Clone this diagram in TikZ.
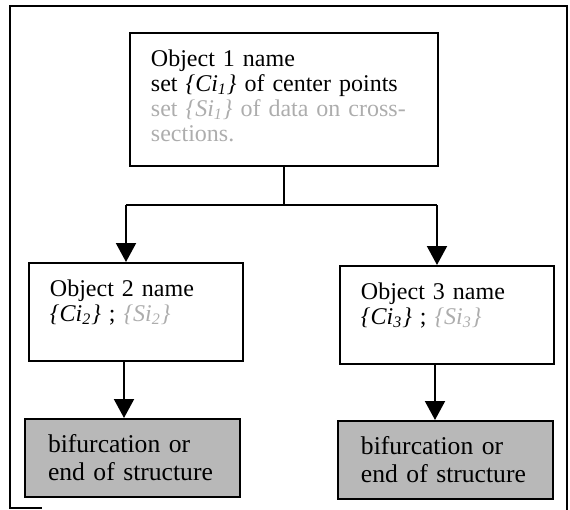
\documentclass[tikz,border=0pt]{standalone}
\usepackage{fontspec}
\setmainfont{Liberation Serif}
\usetikzlibrary{arrows.meta}
\tikzset{
      objbox/.style={draw=black, line width=1, anchor=north west, align=left,
            inner xsep=10.5pt, inner ysep=0pt, text width=86pt, text height=16.5pt,
            text depth=32.5pt, font=\fontsize{12pt}{12.5pt}\selectfont},
      endbox/.style={draw=black, line width=1, anchor=north west, align=left, fill=black!28,
            inner xsep=11.5pt, inner ysep=0pt, text width=84.5pt, text height=16.5pt,
            text depth=22.5pt, font=\fontsize{12.8pt}{14pt}\selectfont},
      link/.style={draw=black, line width=1},
      arrow/.style={draw=black, line width=1, -{Triangle[width=10pt,length=9.5pt]}},
      frame/.style={draw=black, line width=1},
}
\newcommand{\dimtext}[1]{\textcolor{black!32}{#1}}
\newcommand{\setname}[2]{\textit{\{#1\textsubscript{#2}\}}}

\begin{document}
\begin{tikzpicture}[x=0.5pt, y=-0.5pt]
        \useasboundingbox (0,0) rectangle (570,510);
        %

        % Draw the frame
        \draw[frame] (42,508) -- (10,508) -- (10,6) -- (567,6) -- (567,510);

        % Draw the objects
        \node[objbox, text width=133pt, text depth=50pt] (obj1) at (129,32)
              {Object 1 name\\
               set \setname{Ci}{1} of center points\\
               \dimtext{set \setname{Si}{1} of data on cross-}\\
               \dimtext{sections.}};
        \node[objbox] (obj2) at (28,262)
              {Object 2 name\\ \setname{Ci}{2} ; \dimtext{\setname{Si}{2}}};
        \node[objbox] (obj3) at (339,265)
              {Object 3 name\\ \setname{Ci}{3} ; \dimtext{\setname{Si}{3}}};

        \node[endbox] (end2) at (24,418) {bifurcation or\\ end of structure};
        \node[endbox] (end3) at (337,420) {bifurcation or\\ end of structure};

        % Draw the branches
        \coordinate (lsplit) at (126,205);
        \coordinate (rsplit) at (437,205);

        \draw[link] (obj1.south) -- (obj1.south |- lsplit);
        \draw[link] (lsplit) -- (rsplit);
        \draw[arrow] (lsplit) -- (lsplit |- obj2.north);
        \draw[arrow] (rsplit) -- (rsplit |- obj3.north);

        \draw[arrow] ([xshift=-6pt]obj2.south) -- ([xshift=-6pt]obj2.south |- end2.north);
        \draw[arrow] ([xshift=-6pt]obj3.south) -- ([xshift=-6pt]obj3.south |- end3.north);

    \end{tikzpicture}
\end{document}
